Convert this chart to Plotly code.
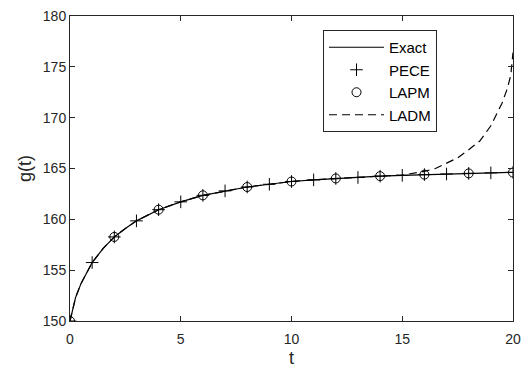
import plotly.graph_objects as go

# Exact solution
t_exact = [0, 0.1, 0.25, 0.5, 0.75, 1, 1.5, 2, 2.5, 3, 4, 5, 6, 7, 8, 9, 10,
           11, 12, 13, 14, 15, 16, 17, 18, 19, 20]
g_exact = [150, 151.0, 152.3, 153.7, 154.8, 155.75, 157.15, 158.27, 159.1, 159.85,
           160.95, 161.72, 162.36, 162.8, 163.18, 163.45, 163.72, 163.88, 164.02,
           164.12, 164.25, 164.33, 164.4, 164.46, 164.52, 164.57, 164.62]

# PECE
t_pece = list(range(0, 21))
g_pece = [150, 155.75, 158.27, 159.85, 160.95, 161.72, 162.36, 162.8, 163.18, 163.45,
          163.72, 163.88, 164.02, 164.12, 164.25, 164.33, 164.4, 164.46, 164.52,
          164.57, 164.62]

# LAPM
t_lapm = list(range(0, 21, 2))
g_lapm = [150, 158.27, 160.95, 162.36, 163.18, 163.72, 164.02, 164.25, 164.4, 164.52, 164.6]

# LADM
t_ladm = [0, 0.1, 0.25, 0.5, 0.75, 1, 1.5, 2, 2.5, 3, 4, 5, 6, 7, 8, 9, 10, 11, 12,
          13, 14, 15, 15.5, 16, 16.5, 17, 17.5, 18, 18.5, 19, 19.5, 19.75, 19.9, 20]
g_ladm = [150, 151.0, 152.3, 153.7, 154.8, 155.75, 157.15, 158.27, 159.1, 159.85,
          160.95, 161.72, 162.36, 162.8, 163.18, 163.45, 163.72, 163.88, 164.02,
          164.12, 164.25, 164.35, 164.5, 164.72, 165.0, 165.5, 166.05, 166.85,
          167.7, 169.2, 171.4, 172.9, 174.2, 176.4]

x_ticks = [0, 5, 10, 15, 20]
y_ticks = [150, 155, 160, 165, 170, 175, 180]

fig = go.Figure()
fig.add_trace(go.Scatter(x=t_exact, y=g_exact, mode="lines", name="Exact",
                         line=dict(color="black", width=1.2)))
fig.add_trace(go.Scatter(x=t_pece, y=g_pece, mode="markers", name="PECE",
                         marker=dict(symbol="cross-thin-open", size=9, color="black",
                                     line=dict(color="black", width=1))))
fig.add_trace(go.Scatter(x=t_lapm, y=g_lapm, mode="markers", name="LAPM",
                         marker=dict(symbol="circle-open", size=9, color="black",
                                     line=dict(color="black", width=1))))
fig.add_trace(go.Scatter(x=t_ladm, y=g_ladm, mode="lines", name="LADM",
                         line=dict(color="black", width=1.2, dash="8px,5px")))

axis_common = dict(showline=True, linecolor="#262626", linewidth=1, mirror="ticks",
                   ticks="inside", ticklen=5, tickcolor="#262626", showgrid=False,
                   zeroline=False, automargin=False,
                   tickfont=dict(family="Liberation Sans, Arial", size=14, color="#262626"))

fig.update_layout(
    width=527, height=365,
    margin=dict(l=70, r=14, t=16, b=44),
    paper_bgcolor="white", plot_bgcolor="white",
    font=dict(family="Liberation Sans, Arial", color="#262626"),
    xaxis=dict(range=[0, 20], tickvals=x_ticks, ticklabelstandoff=5, **axis_common),
    yaxis=dict(range=[150, 180], tickvals=y_ticks,
               title=dict(text="g(t)", font=dict(size=18), standoff=6), **axis_common),
    legend=dict(x=(323 - 70) / 443, y=1 - (30 - 16) / 305, xanchor="left", yanchor="top",
                bgcolor="white", bordercolor="#262626", borderwidth=1,
                font=dict(family="Liberation Sans, Arial", size=15, color="black"),
                itemwidth=55),
    showlegend=True,
    annotations=[dict(text="t", xref="paper", yref="paper", x=0.5, y=(321 - 358) / 305,
                      xanchor="center", yanchor="middle", showarrow=False,
                      font=dict(family="Liberation Sans, Arial", size=18, color="#262626"))],
)

fig.write_html("out.html", config={"displayModeBar": False},
               post_script="document.body.style.margin='0';")
